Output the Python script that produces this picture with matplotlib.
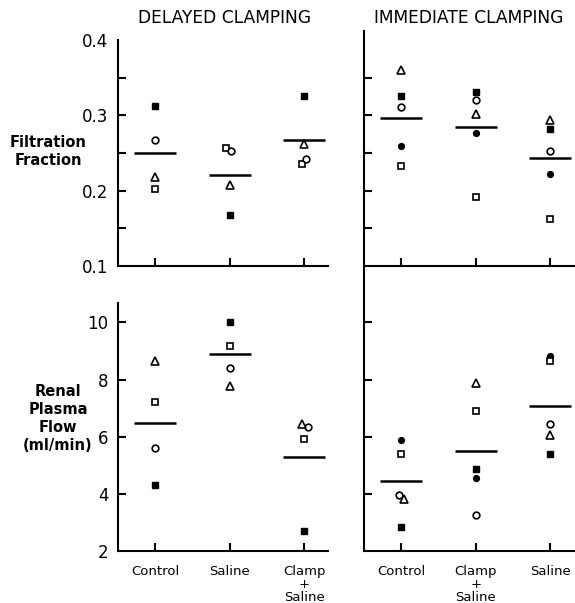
import matplotlib
matplotlib.use("Agg")
import matplotlib.pyplot as plt
from matplotlib.lines import Line2D

# ---------------- data ----------------
titles = ["DELAYED CLAMPING", "IMMEDIATE CLAMPING"]
categories_delayed = ["Control", "Saline", "Clamp\n+\nSaline"]
categories_immediate = ["Control", "Clamp\n+\nSaline", "Saline"]

ff_delayed_filled_square = [0.312, 0.168, 0.326]
ff_delayed_open_square = [0.202, 0.256, 0.236]
ff_delayed_open_circle = [0.267, 0.253, 0.242]
ff_delayed_triangle = [0.218, 0.208, 0.262]
ff_delayed_mean = [0.250, 0.221, 0.267]

ff_immediate_filled_square = [0.326, 0.331, 0.282]
ff_immediate_open_square = [0.233, 0.192, 0.163]
ff_immediate_open_circle = [0.311, 0.320, 0.253]
ff_immediate_filled_circle = [0.259, 0.277, 0.222]
ff_immediate_triangle = [0.360, 0.302, 0.294]
ff_immediate_mean = [0.297, 0.284, 0.243]

rpf_delayed_filled_square = [4.31, 10.01, 2.70]
rpf_delayed_open_square = [7.23, 9.18, 5.91]
rpf_delayed_open_circle = [5.61, 8.42, 6.33]
rpf_delayed_triangle = [8.66, 7.78, 6.45]
rpf_delayed_mean = [6.49, 8.91, 5.28]

rpf_immediate_filled_square = [2.85, 4.88, 5.40]
rpf_immediate_open_square = [5.38, 6.89, 8.65]
rpf_immediate_open_circle = [3.97, 3.26, 6.46]
rpf_immediate_filled_circle = [5.87, 4.56, 8.81]
rpf_immediate_triangle = [3.82, 7.89, 6.05]
rpf_immediate_mean = [4.45, 5.50, 7.09]

ff_ticks = [0.1, 0.2, 0.3, 0.4]
ff_minor_ticks = [0.15, 0.25, 0.35]
rpf_ticks = [2, 4, 6, 8, 10]

# ---------------- style ----------------
FONT = "DejaVu Sans"
plt.rcParams["font.family"] = [FONT]

marker_styles = {
    "filled_square": dict(marker="s", ms=4.0, mfc="black", mec="black", mew=1.0),
    "filled_circle": dict(marker="o", ms=4.2, mfc="black", mec="black", mew=1.0),
    "open_square": dict(marker="s", ms=4.4, mfc="white", mec="black", mew=1.2),
    "open_circle": dict(marker="o", ms=4.8, mfc="white", mec="black", mew=1.2),
    "triangle": dict(marker="^", ms=5.6, mfc="white", mec="black", mew=1.2),
}
draw_order = ["filled_square", "filled_circle", "open_square", "open_circle", "triangle"]

# small horizontal dodges so overlapping symbols are visible (style only)
dodge = {
    ("ffd", "open_square"): [0, -0.055, -0.03],
    ("ffd", "open_circle"): [0, 0.02, 0.02],
    ("rpfd", "triangle"): [0, 0, -0.035],
    ("rpfd", "open_circle"): [0, 0, 0.045],
    ("rpfi", "open_circle"): [-0.03, 0, 0],
    ("rpfi", "triangle"): [0.035, 0, 0],
}

W, H = 575, 603
fig = plt.figure(figsize=(W / 100, H / 100), dpi=100)


def px_rect(x0, y0, x1, y1):
    return [x0 / W, 1 - y1 / H, (x1 - x0) / W, (y1 - y0) / H]


ax_ffd = fig.add_axes(px_rect(118, 40, 328, 266))
ax_ffi = fig.add_axes(px_rect(364, 40, 574, 266))
ax_rpfd = fig.add_axes(px_rect(118, 303, 328, 551))
ax_rpfi = fig.add_axes(px_rect(364, 303, 574, 551))

panels = [
    (ax_ffd, "ffd", categories_delayed, {
        "filled_square": ff_delayed_filled_square,
        "open_square": ff_delayed_open_square,
        "open_circle": ff_delayed_open_circle,
        "triangle": ff_delayed_triangle}, ff_delayed_mean),
    (ax_ffi, "ffi", categories_immediate, {
        "filled_square": ff_immediate_filled_square,
        "open_square": ff_immediate_open_square,
        "open_circle": ff_immediate_open_circle,
        "filled_circle": ff_immediate_filled_circle,
        "triangle": ff_immediate_triangle}, ff_immediate_mean),
    (ax_rpfd, "rpfd", categories_delayed, {
        "filled_square": rpf_delayed_filled_square,
        "open_square": rpf_delayed_open_square,
        "open_circle": rpf_delayed_open_circle,
        "triangle": rpf_delayed_triangle}, rpf_delayed_mean),
    (ax_rpfi, "rpfi", categories_immediate, {
        "filled_square": rpf_immediate_filled_square,
        "open_square": rpf_immediate_open_square,
        "open_circle": rpf_immediate_open_circle,
        "filled_circle": rpf_immediate_filled_circle,
        "triangle": rpf_immediate_triangle}, rpf_immediate_mean),
]

for ax, key, cats, series, means in panels:
    xs = list(range(len(cats)))
    for name in draw_order:
        if name not in series:
            continue
        off = dodge.get((key, name), [0] * len(xs))
        ax.plot([x + o for x, o in zip(xs, off)], series[name], ls="none",
                zorder=3, **marker_styles[name])
    for x, m in zip(xs, means):
        ax.plot([x - 0.28, x + 0.28], [m, m], color="black", lw=1.8,
                solid_capstyle="butt", zorder=2)
    ax.set_xlim(-0.5, 2.32)
    ax.set_xticks(xs)
    for s in ["top", "right"]:
        ax.spines[s].set_visible(False)
    for s in ["left", "bottom"]:
        ax.spines[s].set_linewidth(1.5)
    ax.tick_params(axis="both", which="both", direction="in", length=6,
                   width=1.5, color="black")
    ax.tick_params(axis="y", labelsize=12, pad=7)
    ax.tick_params(axis="x", labelsize=9.5, pad=10)

# x labels only on bottom panels
for ax in (ax_ffd, ax_ffi):
    ax.set_xticklabels([])
ax_rpfd.set_xticklabels(categories_delayed, linespacing=1.02, fontsize=9.5)
ax_rpfi.set_xticklabels(categories_immediate, linespacing=1.02, fontsize=9.5)

# y axes
for ax in (ax_ffd, ax_ffi):
    ax.set_ylim(0.1, 0.4)
    ax.set_yticks(ff_ticks)
    ax.set_yticks(ff_minor_ticks, minor=True)
    ax.yaxis.get_major_ticks()[-1].tick1line.set_visible(False)
    ax.yaxis.get_major_ticks()[0].tick1line.set_visible(False)
ax_ffd.set_yticklabels([f"{t:.1f}" for t in ff_ticks])
ax_ffi.set_yticklabels([])

for ax in (ax_rpfd, ax_rpfi):
    ax.set_ylim(2, 10.68)
    ax.set_yticks(rpf_ticks)
    ax.yaxis.get_major_ticks()[0].tick1line.set_visible(False)
ax_rpfd.set_yticklabels([str(t) for t in rpf_ticks])
ax_rpfi.set_yticklabels([])

# continuous vertical line at the left of the right-hand panels
fig.add_artist(Line2D([364 / W, 364 / W], [1 - 31 / H, 1 - 551 / H],
                      color="black", lw=1.5, transform=fig.transFigure))
ax_ffi.spines["left"].set_visible(False)
ax_rpfi.spines["left"].set_visible(False)

# titles
fig.text(224 / W, 1 - 18 / H, titles[0], ha="center", va="center", fontsize=12.3)
fig.text(469 / W, 1 - 18 / H, titles[1], ha="center", va="center", fontsize=12.3)

# row labels
fig.text(48 / W, 1 - 151 / H, "Filtration\nFraction", ha="center", va="center",
         fontsize=10.5, fontweight="bold", linespacing=1.25)
fig.text(58 / W, 1 - 418 / H, "Renal\nPlasma\nFlow\n(ml/min)", ha="center",
         va="center", fontsize=10.5, fontweight="bold", linespacing=1.25)

fig.savefig("out.png", dpi=100)
